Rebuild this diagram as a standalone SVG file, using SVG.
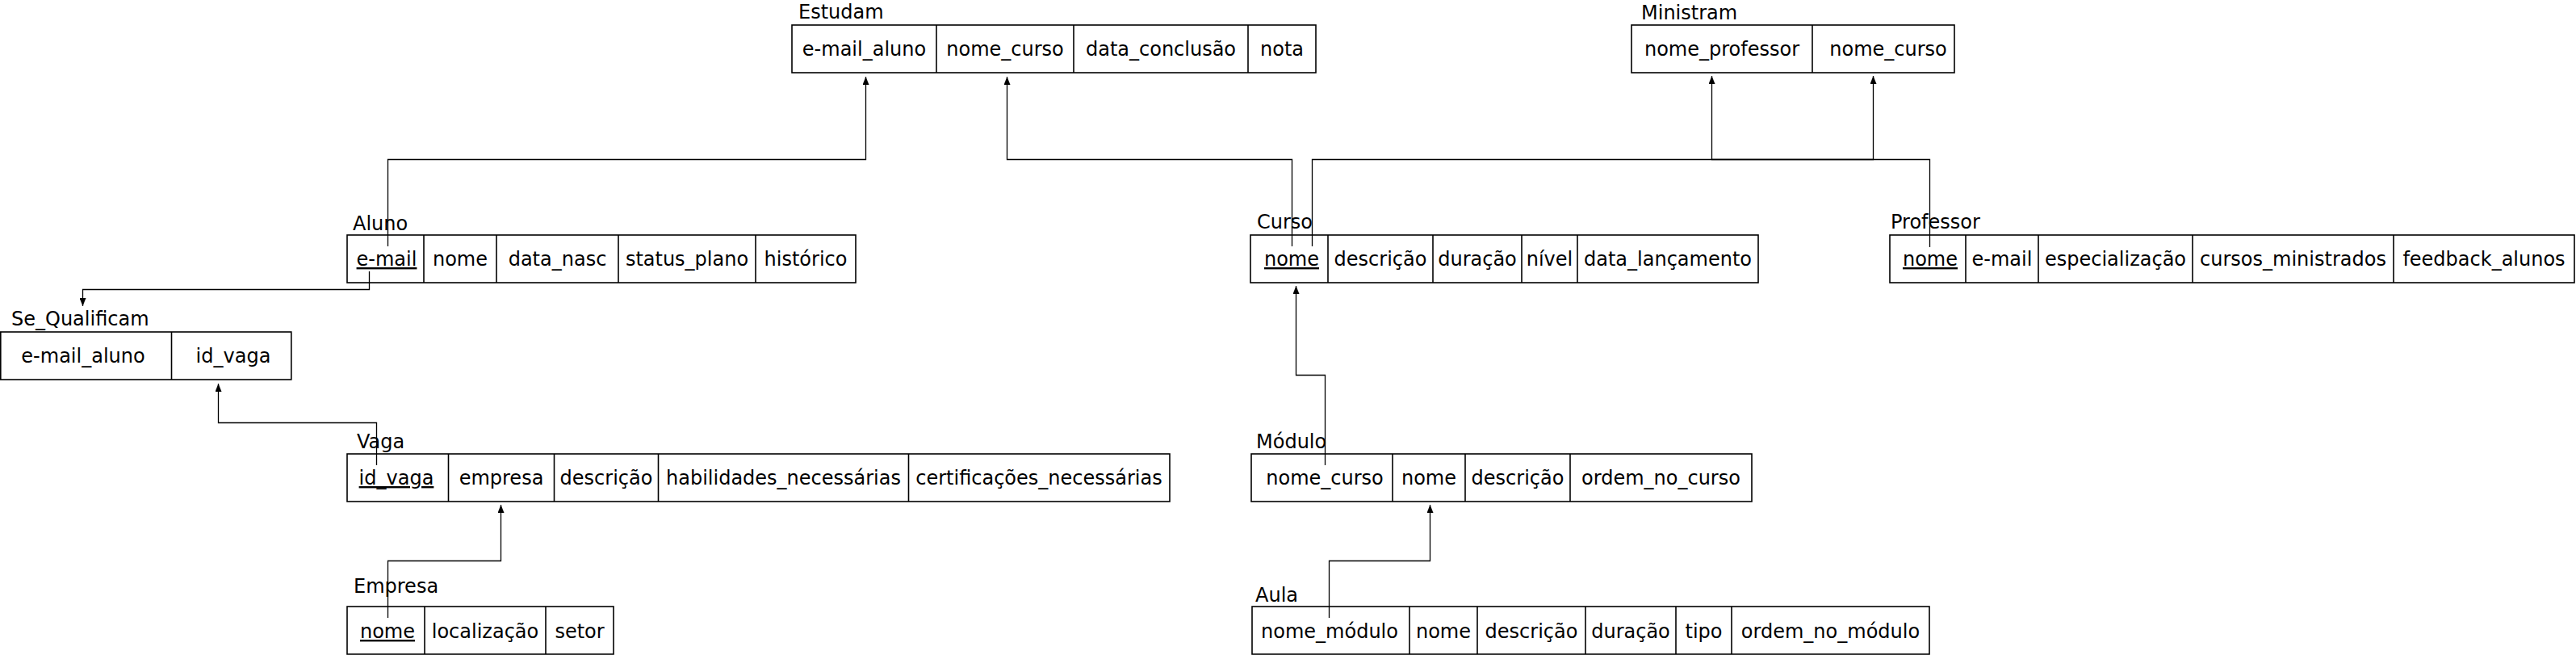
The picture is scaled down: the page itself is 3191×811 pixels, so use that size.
<svg xmlns="http://www.w3.org/2000/svg" width="3191" height="811" viewBox="0 0 3191 811">
<style>
text{font-family:"DejaVu Sans","Verdana",sans-serif;font-size:24px;fill:#000}
.t{text-anchor:middle}
.k{text-decoration:underline}
.b{fill:#fff;stroke:#000;stroke-width:1.6}
.d{stroke:#000;stroke-width:1.6}
.c{fill:none;stroke:#000;stroke-width:1.3}
</style>
<defs>
<marker id="ah" markerUnits="userSpaceOnUse" markerWidth="10" markerHeight="8" refX="10" refY="4" orient="auto">
<path d="M0,0 L10,4 L0,8 z" fill="#000"/>
</marker>
</defs>
<rect width="3191" height="811" fill="#fff"/>

<g id="estudam">
<text x="989" y="23">Estudam</text>
<rect class="b" x="981" y="31" width="649" height="59"/>
<line class="d" x1="1160" y1="31" x2="1160" y2="90"/>
<line class="d" x1="1330" y1="31" x2="1330" y2="90"/>
<line class="d" x1="1546" y1="31" x2="1546" y2="90"/>
<text class="t" x="1070.5" y="69">e-mail_aluno</text>
<text class="t" x="1245" y="69">nome_curso</text>
<text class="t" x="1438" y="69">data_conclusão</text>
<text class="t" x="1588" y="69">nota</text>
</g>

<g id="ministram">
<text x="2033" y="24">Ministram</text>
<rect class="b" x="2021" y="31" width="400" height="59"/>
<line class="d" x1="2245" y1="31" x2="2245" y2="90"/>
<text class="t" x="2133" y="69">nome_professor</text>
<text class="t" x="2339" y="69">nome_curso</text>
</g>

<g id="aluno">
<text x="437" y="285">Aluno</text>
<rect class="b" x="430" y="291" width="630" height="59"/>
<line class="d" x1="525" y1="291" x2="525" y2="350"/>
<line class="d" x1="615" y1="291" x2="615" y2="350"/>
<line class="d" x1="766" y1="291" x2="766" y2="350"/>
<line class="d" x1="936" y1="291" x2="936" y2="350"/>
<text class="t k" x="479" y="329">e-mail</text>
<text class="t" x="570" y="329">nome</text>
<text class="t" x="690.5" y="329">data_nasc</text>
<text class="t" x="851" y="329">status_plano</text>
<text class="t" x="998" y="329">histórico</text>
</g>

<g id="curso">
<text x="1557" y="283">Curso</text>
<rect class="b" x="1549" y="291" width="629" height="59"/>
<line class="d" x1="1645" y1="291" x2="1645" y2="350"/>
<line class="d" x1="1775" y1="291" x2="1775" y2="350"/>
<line class="d" x1="1885" y1="291" x2="1885" y2="350"/>
<line class="d" x1="1954" y1="291" x2="1954" y2="350"/>
<text class="t k" x="1600" y="329">nome</text>
<text class="t" x="1710" y="329">descrição</text>
<text class="t" x="1830" y="329">duração</text>
<text class="t" x="1919.5" y="329">nível</text>
<text class="t" x="2066" y="329">data_lançamento</text>
</g>

<g id="professor">
<text x="2342" y="283">Professor</text>
<rect class="b" x="2341" y="291" width="848" height="59"/>
<line class="d" x1="2435" y1="291" x2="2435" y2="350"/>
<line class="d" x1="2525" y1="291" x2="2525" y2="350"/>
<line class="d" x1="2716" y1="291" x2="2716" y2="350"/>
<line class="d" x1="2965" y1="291" x2="2965" y2="350"/>
<text class="t k" x="2391" y="329">nome</text>
<text class="t" x="2480" y="329">e-mail</text>
<text class="t" x="2620.5" y="329">especialização</text>
<text class="t" x="2840.5" y="329">cursos_ministrados</text>
<text class="t" x="3077" y="329">feedback_alunos</text>
</g>

<g id="se_qualificam">
<text x="14" y="403">Se_Qualificam</text>
<rect class="b" x="0.8" y="411" width="360" height="59"/>
<line class="d" x1="212.5" y1="411" x2="212.5" y2="470"/>
<text class="t" x="103" y="449">e-mail_aluno</text>
<text class="t" x="289" y="449">id_vaga</text>
</g>

<g id="vaga">
<text x="442" y="555">Vaga</text>
<rect class="b" x="430" y="562" width="1019" height="59"/>
<line class="d" x1="555.5" y1="562" x2="555.5" y2="621"/>
<line class="d" x1="686.5" y1="562" x2="686.5" y2="621"/>
<line class="d" x1="815.5" y1="562" x2="815.5" y2="621"/>
<line class="d" x1="1125.5" y1="562" x2="1125.5" y2="621"/>
<text class="t k" x="491" y="600">id_vaga</text>
<text class="t" x="621" y="600">empresa</text>
<text class="t" x="751" y="600">descrição</text>
<text class="t" x="970.5" y="600">habilidades_necessárias</text>
<text class="t" x="1287" y="600">certificações_necessárias</text>
</g>

<g id="modulo">
<text x="1556" y="555">Módulo</text>
<rect class="b" x="1550" y="562" width="620" height="59"/>
<line class="d" x1="1725" y1="562" x2="1725" y2="621"/>
<line class="d" x1="1815" y1="562" x2="1815" y2="621"/>
<line class="d" x1="1945" y1="562" x2="1945" y2="621"/>
<text class="t" x="1641" y="600">nome_curso</text>
<text class="t" x="1770" y="600">nome</text>
<text class="t" x="1880" y="600">descrição</text>
<text class="t" x="2057.5" y="600">ordem_no_curso</text>
</g>

<g id="empresa">
<text x="438" y="734">Empresa</text>
<rect class="b" x="430" y="751" width="330" height="59"/>
<line class="d" x1="526" y1="751" x2="526" y2="810"/>
<line class="d" x1="676" y1="751" x2="676" y2="810"/>
<text class="t k" x="480" y="790">nome</text>
<text class="t" x="601" y="790">localização</text>
<text class="t" x="718" y="790">setor</text>
</g>

<g id="aula">
<text x="1555" y="745">Aula</text>
<rect class="b" x="1551" y="751" width="839" height="59"/>
<line class="d" x1="1746" y1="751" x2="1746" y2="810"/>
<line class="d" x1="1830" y1="751" x2="1830" y2="810"/>
<line class="d" x1="1964" y1="751" x2="1964" y2="810"/>
<line class="d" x1="2076" y1="751" x2="2076" y2="810"/>
<line class="d" x1="2145" y1="751" x2="2145" y2="810"/>
<text class="t" x="1647" y="790">nome_módulo</text>
<text class="t" x="1788" y="790">nome</text>
<text class="t" x="1897" y="790">descrição</text>
<text class="t" x="2020" y="790">duração</text>
<text class="t" x="2110.5" y="790">tipo</text>
<text class="t" x="2267.5" y="790">ordem_no_módulo</text>
</g>

<g id="connectors">
<path class="c" d="M480.5,305 V197.5 H1072.5 V95" marker-end="url(#ah)"/>
<path class="c" d="M1600.5,305 V197.5 H1247.5 V95" marker-end="url(#ah)"/>
<path class="c" d="M1625.5,305 V197.5 H2320.5 V94" marker-end="url(#ah)"/>
<path class="c" d="M2390.5,306 V197.5 H2120.5 V94" marker-end="url(#ah)"/>
<path class="c" d="M457.5,336 V358.5 H102.5 V379" marker-end="url(#ah)"/>
<path class="c" d="M466.5,576 V523.5 H270.5 V475" marker-end="url(#ah)"/>
<path class="c" d="M480.5,765 V694.5 H620.5 V625" marker-end="url(#ah)"/>
<path class="c" d="M1641.5,576 V464.5 H1605.5 V354" marker-end="url(#ah)"/>
<path class="c" d="M1646.5,765 V694.5 H1771.5 V625" marker-end="url(#ah)"/>
</g>
</svg>
